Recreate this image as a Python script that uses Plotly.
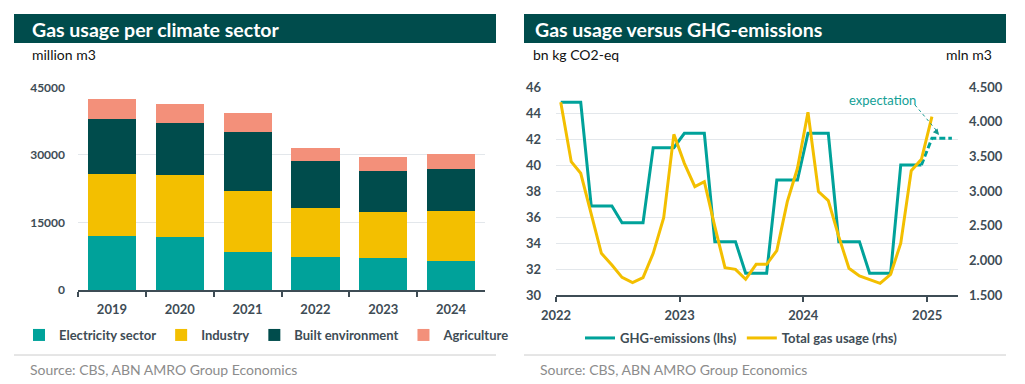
import plotly.graph_objects as go

# ---------------- Left chart data ----------------
years = ["2019", "2020", "2021", "2022", "2023", "2024"]
electricity = [12060, 11690, 8440, 7400, 7030, 6440]
industry = [13620, 13760, 13620, 10730, 10290, 11100]
built_env = [12360, 11690, 13100, 10510, 9030, 9250]
agriculture = [4290, 4070, 4140, 2890, 3260, 3330]

# ---------------- Right chart data ----------------
months = [
    "2022-01-15", "2022-02-15", "2022-03-15", "2022-04-15", "2022-05-15", "2022-06-15",
    "2022-07-15", "2022-08-15", "2022-09-15", "2022-10-15", "2022-11-15", "2022-12-15",
    "2023-01-15", "2023-02-15", "2023-03-15", "2023-04-15", "2023-05-15", "2023-06-15",
    "2023-07-15", "2023-08-15", "2023-09-15", "2023-10-15", "2023-11-15", "2023-12-15",
    "2024-01-15", "2024-02-15", "2024-03-15", "2024-04-15", "2024-05-15", "2024-06-15",
    "2024-07-15", "2024-08-15", "2024-09-15", "2024-10-15", "2024-11-15", "2024-12-15",
    "2025-01-15",
]
ghg = [
    44.84, 44.84, 44.84, 36.86, 36.86, 36.86,
    35.57, 35.57, 35.57, 41.35, 41.35, 41.35,
    42.46, 42.46, 42.46, 34.11, 34.11, 34.11,
    31.67, 31.67, 31.67, 38.86, 38.86, 38.86,
    42.46, 42.46, 42.46, 34.11, 34.11, 34.11,
    31.67, 31.67, 31.67, 40.02, 40.02, 40.02,
]
exp_months = ["2024-12-15", "2025-01-15", "2025-02-15", "2025-03-15"]
ghg_expectation = [40.02, 42.07, 42.07, 42.07]
gas_total = [
    4283, 3426, 3258, 2680, 2102, 1934, 1755, 1678, 1751, 2102, 2617, 3821,
    3402, 3065, 3137, 2487, 1895, 1871, 1727, 1943, 1943, 2141, 2848, 3330,
    4139, 2993, 2863, 2343, 1886, 1775, 1727, 1669, 1799, 2247, 3296, 3460,
    4076,
]

# ---------------- Styles ----------------
W, H = 1025, 384
FONT = "Lato"
DARK = "#004C4C"
TEAL = "#00A29A"
YELLOW = "#F3BF00"
SALMON = "#F3907A"
TICK = "#3E4C55"
GRID = "#E3E7EB"

def px_x(p):
    return p / W

def px_y(p):
    return 1 - p / H

fig = go.Figure()

bar_specs = [
    ("Electricity sector", electricity, TEAL),
    ("Industry", industry, YELLOW),
    ("Built environment", built_env, DARK),
    ("Agriculture", agriculture, SALMON),
]
for name, vals, col in bar_specs:
    fig.add_trace(go.Bar(
        x=years, y=vals, name=name, marker=dict(color=col, line=dict(width=0)),
        xaxis="x", yaxis="y", legend="legend",
    ))

fig.add_trace(go.Scatter(
    x=months[:36], y=ghg, name="GHG-emissions (lhs)", mode="lines",
    line=dict(color=TEAL, width=3), xaxis="x2", yaxis="y2", legend="legend2",
))
fig.add_trace(go.Scatter(
    x=exp_months, y=ghg_expectation, name="GHG expectation", mode="lines",
    line=dict(color=TEAL, width=3, dash="6px,3px"), xaxis="x2", yaxis="y2",
    showlegend=False,
))
fig.add_trace(go.Scatter(
    x=months, y=gas_total, name="Total gas usage (rhs)", mode="lines",
    line=dict(color=YELLOW, width=3), xaxis="x2", yaxis="y3", legend="legend2",
))

tickfont = dict(family=FONT, size=13, color=TICK, weight="bold")

fig.update_layout(
    width=W, height=H,
    margin=dict(l=0, r=0, t=0, b=0, pad=0, autoexpand=False),
    paper_bgcolor="white", plot_bgcolor="white",
    barmode="stack", bargap=0.29,
    separators=",.",
    font=dict(family=FONT, color=TICK),
    xaxis=dict(
        domain=[px_x(78), px_x(485)], anchor="y", type="category", automargin=False,
        showline=True, linecolor=TICK, linewidth=2,
        ticks="outside", tickson="boundaries", ticklen=5, tickwidth=2, tickcolor=TICK,
        ticklabelstandoff=6,
        tickfont=tickfont, showgrid=False, fixedrange=True,
    ),
    yaxis=dict(
        domain=[px_y(290), px_y(87.3)], anchor="x", range=[0, 45000], dtick=15000,
        tickformat="d", showgrid=True, gridcolor=GRID, gridwidth=1, automargin=False,
        zeroline=False, showline=False, ticks="", ticklabelstandoff=12,
        tickfont=dict(family=FONT, size=12, color=TICK, weight="bold"),
    ),
    xaxis2=dict(
        domain=[px_x(556), px_x(958)], anchor="y2", type="date", automargin=False,
        range=["2022-01-01", "2025-04-02"], dtick="M12", tick0="2022-01-01",
        tickformat="%Y", showline=True, linecolor=TICK, linewidth=2,
        ticks="outside", ticklen=5, tickwidth=2, tickcolor=TICK, ticklabelstandoff=2,
        tickfont=tickfont, showgrid=False,
    ),
    yaxis2=dict(
        domain=[px_y(295), px_y(87.3)], anchor="x2", range=[30, 46], dtick=2,
        showgrid=True, gridcolor=GRID, gridwidth=1, zeroline=False, showline=False,
        ticks="", ticklabelstandoff=14, tickfont=tickfont, automargin=False,
    ),
    yaxis3=dict(
        overlaying="y2", side="right", anchor="x2", range=[1500, 4500], dtick=500,
        tickformat=",", showgrid=False, zeroline=False, showline=False, automargin=False,
        ticks="", ticklabelstandoff=10, tickfont=tickfont,
    ),
    legend=dict(
        orientation="h", x=px_x(19), y=px_y(335), xanchor="left", yanchor="middle",
        font=dict(family=FONT, size=13, color=TICK, weight="bold"),
        bgcolor="rgba(0,0,0,0)", traceorder="normal",
    ),
    legend2=dict(
        orientation="h", x=px_x(580), y=px_y(338), xanchor="left", yanchor="middle",
        font=dict(family=FONT, size=13, color=TICK, weight="bold"),
        bgcolor="rgba(0,0,0,0)", traceorder="normal",
    ),
)

shapes = [
    dict(type="rect", xref="paper", yref="paper", x0=px_x(14), x1=px_x(496),
         y0=px_y(43), y1=px_y(14), fillcolor=DARK, line=dict(width=0), layer="below"),
    dict(type="rect", xref="paper", yref="paper", x0=px_x(524), x1=px_x(1006),
         y0=px_y(43), y1=px_y(14), fillcolor=DARK, line=dict(width=0), layer="below"),
    dict(type="line", xref="paper", yref="paper", x0=px_x(14), x1=px_x(496),
         y0=px_y(355), y1=px_y(355), line=dict(color="#CCCCCC", width=1)),
    dict(type="line", xref="paper", yref="paper", x0=px_x(524), x1=px_x(1006),
         y0=px_y(355), y1=px_y(355), line=dict(color="#CCCCCC", width=1)),
    # dotted pointer for "expectation"
    dict(type="line", xref="x2", yref="y2", x0="2024-11-26", y0=44.64,
         x1="2025-02-03", y1=42.5, line=dict(color="#13988F", width=1, dash="dot")),
]
fig.update_layout(shapes=shapes)

ann = [
    dict(text="Gas usage per climate sector", x=px_x(30), y=px_y(29), xref="paper", yref="paper",
         xanchor="left", yanchor="middle", showarrow=False,
         font=dict(family=FONT, size=19.5, color="white", weight="bold")),
    dict(text="Gas usage versus GHG-emissions", x=px_x(533), y=px_y(29), xref="paper", yref="paper",
         xanchor="left", yanchor="middle", showarrow=False,
         font=dict(family=FONT, size=19.5, color="white", weight="bold")),
    dict(text="million m3", x=px_x(30), y=px_y(55), xref="paper", yref="paper",
         xanchor="left", yanchor="middle", showarrow=False,
         font=dict(family=FONT, size=14, color="#111111")),
    dict(text="bn kg CO2-eq", x=px_x(531), y=px_y(55), xref="paper", yref="paper",
         xanchor="left", yanchor="middle", showarrow=False,
         font=dict(family=FONT, size=14, color="#111111")),
    dict(text="mln m3", x=px_x(994), y=px_y(55), xref="paper", yref="paper",
         xanchor="right", yanchor="middle", showarrow=False,
         font=dict(family=FONT, size=14, color="#111111")),
    dict(text="Source: CBS, ABN AMRO Group Economics", x=px_x(28), y=px_y(369), xref="paper", yref="paper",
         xanchor="left", yanchor="middle", showarrow=False,
         font=dict(family=FONT, size=14, color="#8C8C8C")),
    dict(text="Source: CBS, ABN AMRO Group Economics", x=px_x(538), y=px_y(369), xref="paper", yref="paper",
         xanchor="left", yanchor="middle", showarrow=False,
         font=dict(family=FONT, size=14, color="#8C8C8C")),
    dict(text="expectation", x="2024-08-21", y=45.02, xref="x2", yref="y2",
         xanchor="center", yanchor="middle", showarrow=False,
         font=dict(family=FONT, size=13, color="#13A096")),
    dict(text="", x="2025-02-05", y=42.33, xref="x2", yref="y2",
         showarrow=True, arrowhead=2, arrowsize=1, arrowwidth=1.2, arrowcolor="#13988F",
         ax=-5, ay=-6, axref="pixel", ayref="pixel"),
]
fig.update_layout(annotations=ann)

fig.write_html(
    "out.html",
    config={"displayModeBar": False},
    post_script="document.body.style.margin='0';document.body.style.padding='0';",
)
